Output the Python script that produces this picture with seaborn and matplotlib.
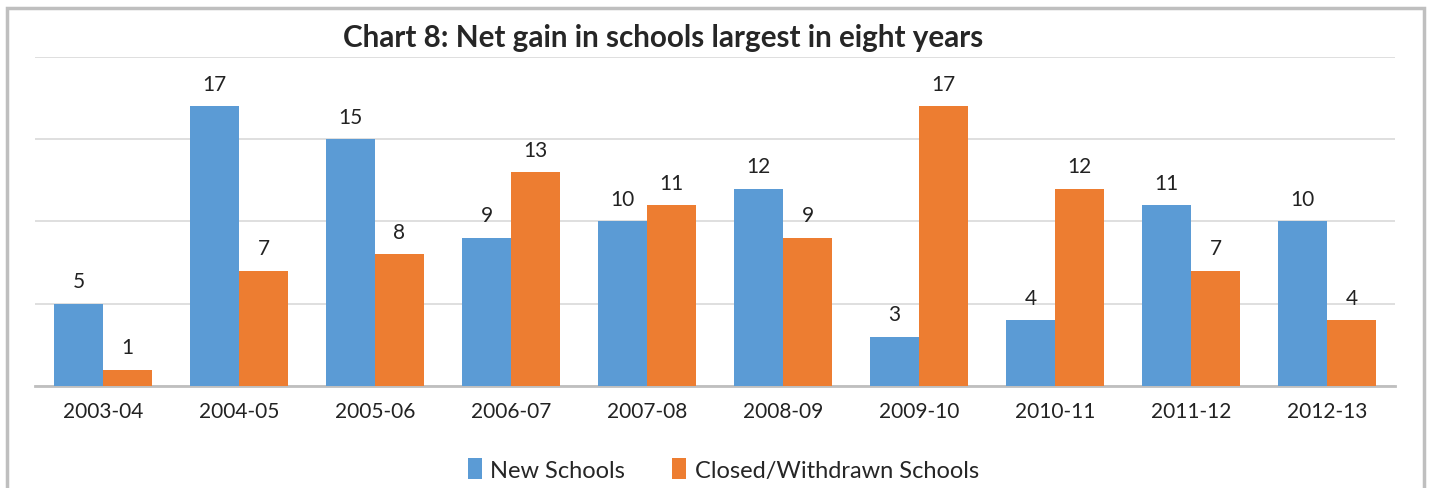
import pandas as pd
import matplotlib.pyplot as plt
import seaborn as sns
from matplotlib.patches import Rectangle

# chart data
years = ['2003-04', '2004-05', '2005-06', '2006-07', '2007-08',
         '2008-09', '2009-10', '2010-11', '2011-12', '2012-13']
new_schools = [5, 17, 15, 9, 10, 12, 3, 4, 11, 10]
closed_schools = [1, 7, 8, 13, 11, 9, 17, 12, 7, 4]
series_names = ['New Schools', 'Closed/Withdrawn Schools']
colors = ['#5B9BD5', '#ED7D31']

df = pd.DataFrame({
    'Year': years * 2,
    'Count': new_schools + closed_schools,
    'Series': [series_names[0]] * len(years) + [series_names[1]] * len(years),
})

sns.set_style('white')
plt.rcParams['font.family'] = ['Lato', 'DejaVu Sans']

fig = plt.figure(figsize=(14.3, 4.89), dpi=100)
ax = fig.add_axes([0.0245, 0.2086, 0.951, 0.6728])

sns.barplot(data=df, x='Year', y='Count', hue='Series', palette=colors,
            width=0.72, gap=0, saturation=1, linewidth=0, ax=ax, zorder=3)

for container in ax.containers:
    ax.bar_label(container, padding=9, fontsize=15, color='#222222')

ax.set_ylim(0, 20)
ax.set_yticks([0, 5, 10, 15, 20])
ax.set_yticklabels([])
ax.tick_params(axis='y', length=0)
ax.tick_params(axis='x', length=0, labelsize=15, pad=11, colors='#222222')
ax.grid(axis='y', color='#D9D9D9', linewidth=1.2, zorder=0)
ax.set_xlabel('')
ax.set_ylabel('')
for side in ['top', 'right', 'left']:
    ax.spines[side].set_visible(False)
ax.spines['bottom'].set_color('#BFBFBF')
ax.spines['bottom'].set_linewidth(2)

ax.legend(loc='upper center', bbox_to_anchor=(0.506, -0.155), ncol=2,
          frameon=False, fontsize=17, handlelength=0.6, handleheight=1.0,
          handletextpad=0.35, columnspacing=2.0)

fig.text(0.464, 0.922, 'Chart 8: Net gain in schools largest in eight years',
         ha='center', va='center', fontsize=21.3, fontweight='bold')

fig.patches.append(Rectangle((0.005, -0.02), 0.991, 1.0016, transform=fig.transFigure,
                             fill=False, edgecolor='#BFBFBF', linewidth=2.5))

fig.savefig('out.png', dpi=100)
